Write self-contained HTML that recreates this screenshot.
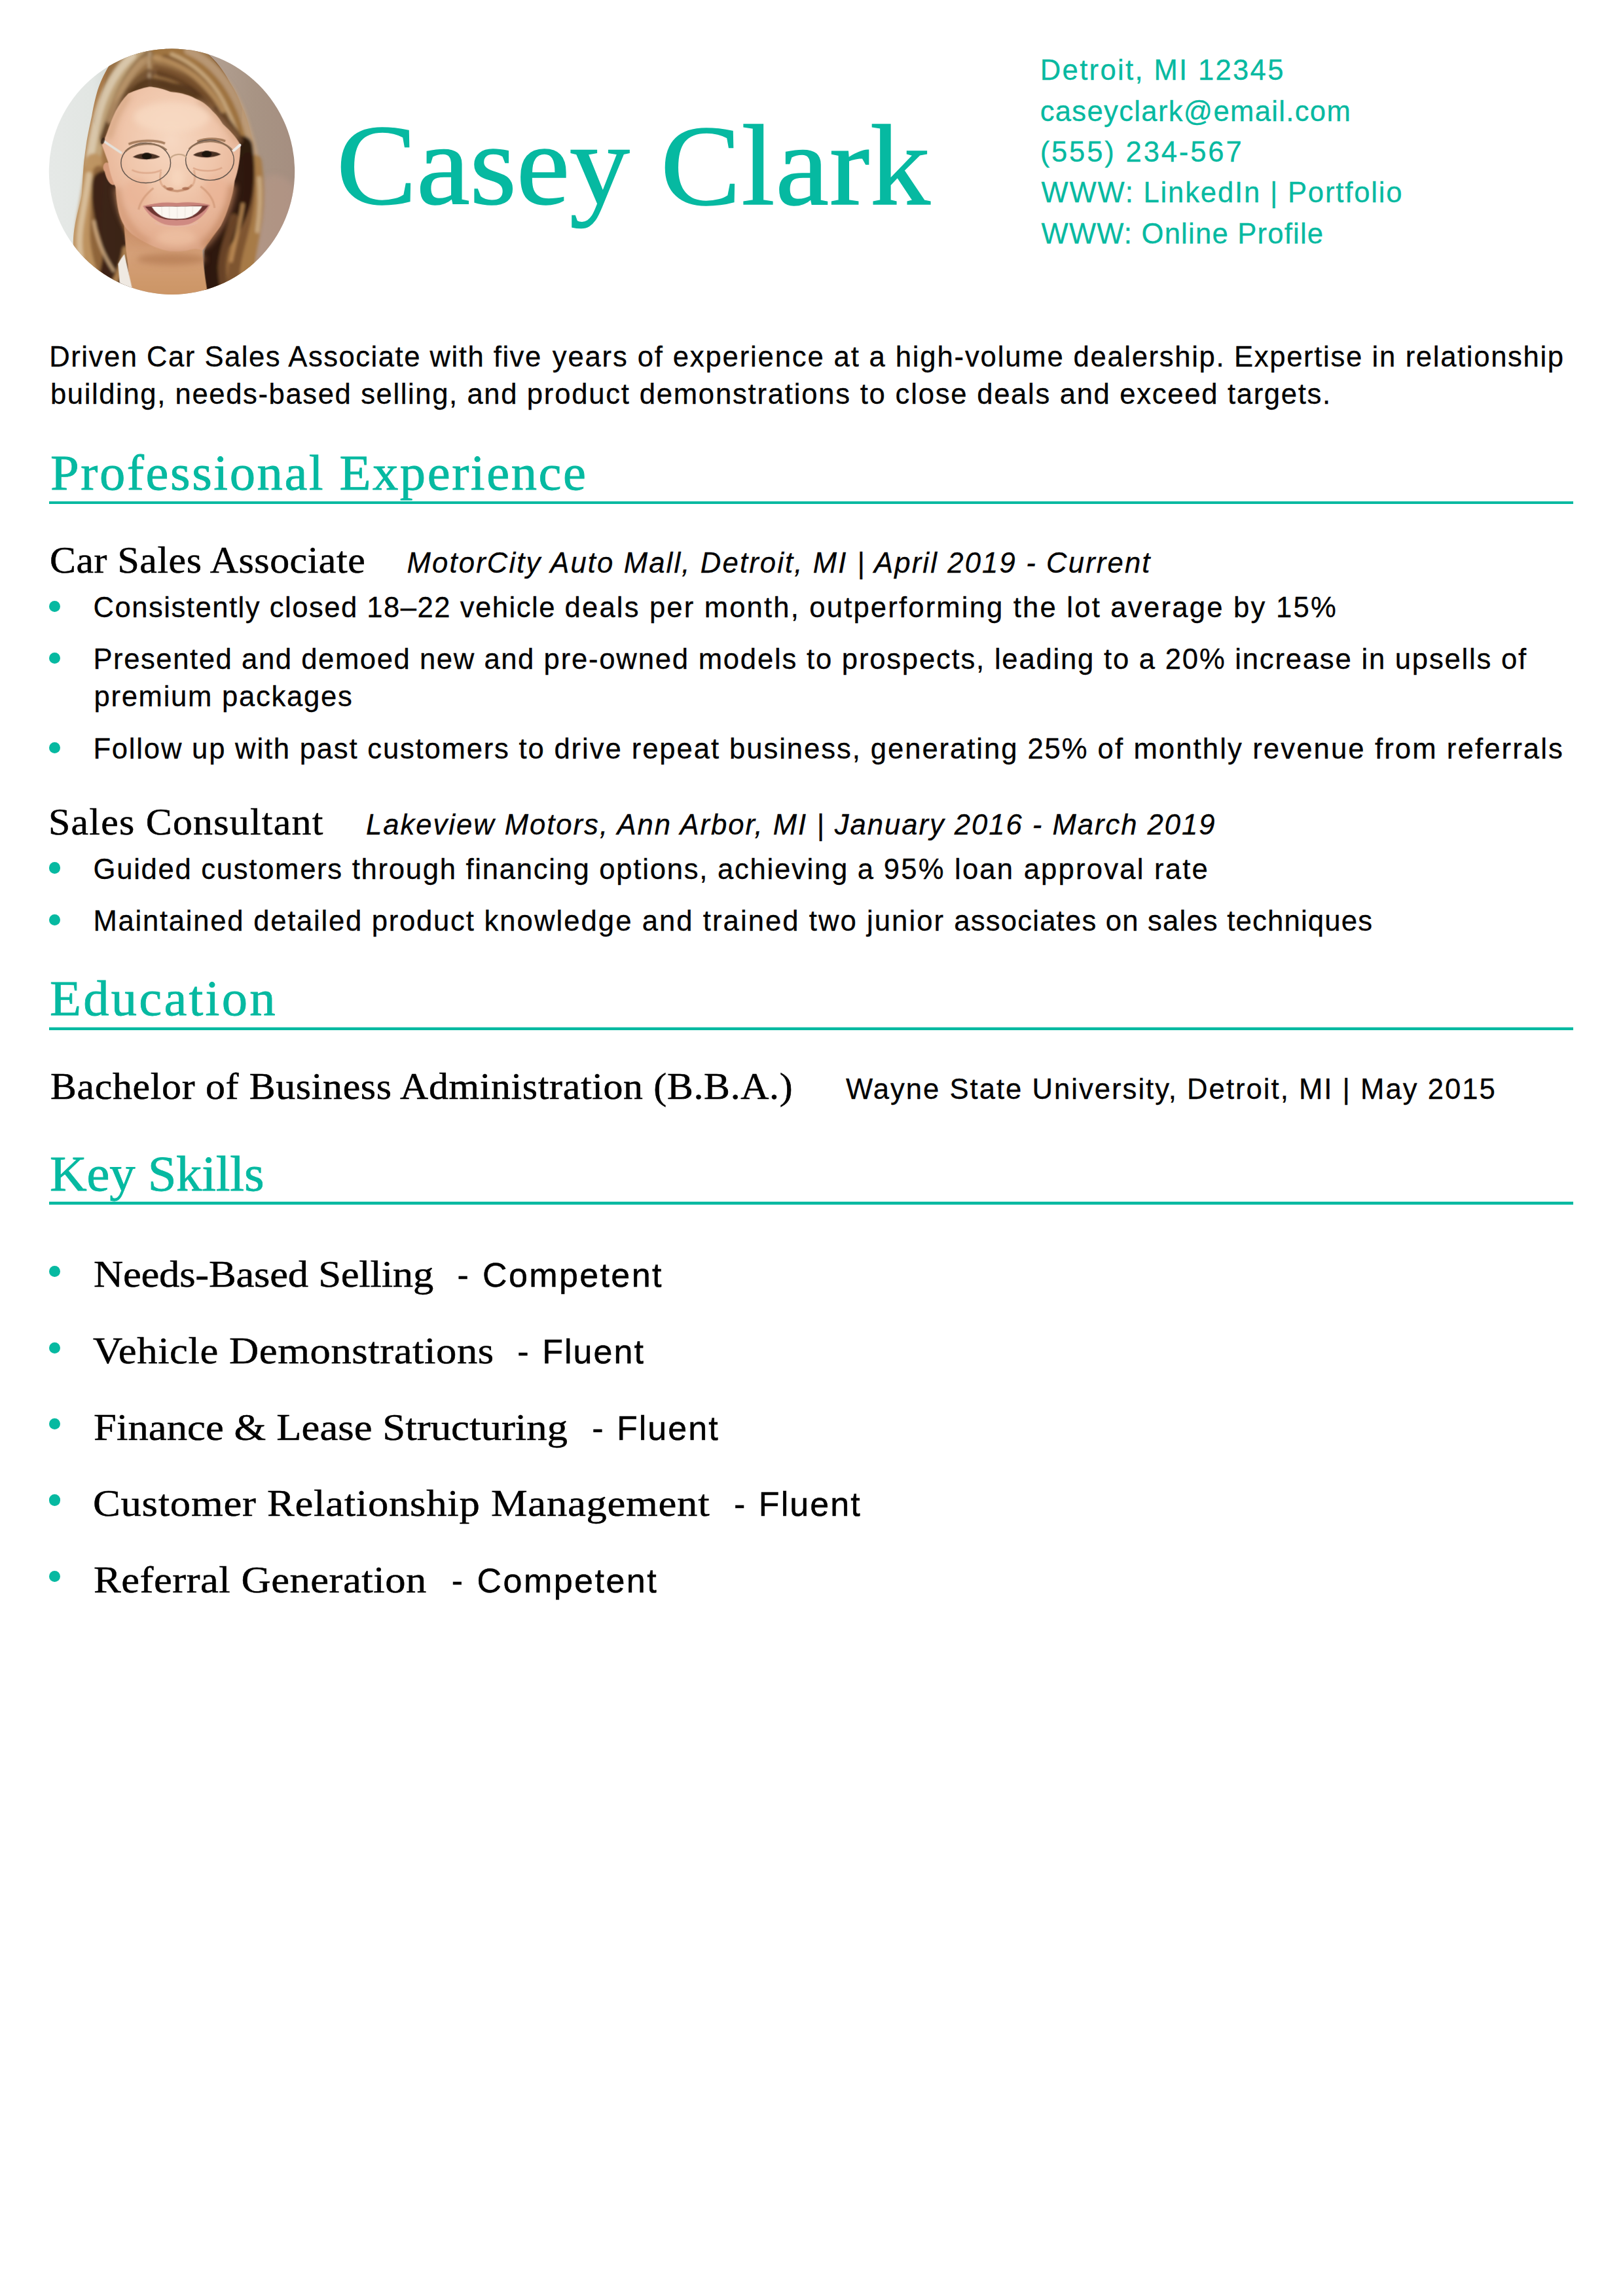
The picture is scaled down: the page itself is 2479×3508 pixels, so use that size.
<!DOCTYPE html>
<html lang="en">
<head>
<meta charset="utf-8">
<title>Casey Clark - Resume</title>
<style>
html,body{margin:0;padding:0;background:#fff;}
body{width:2479px;height:3508px;position:relative;overflow:hidden;font-family:"Liberation Sans",sans-serif;color:#000;}
.s,.r{position:absolute;white-space:nowrap;line-height:1;margin:0;padding:0;transform-origin:0 0;}
.s{font-family:"Liberation Sans",sans-serif;}
.r{font-family:"Liberation Serif",serif;}
.i{font-style:italic;}
.t{color:#06b9a1;}
.hr{position:absolute;left:75px;width:2327.5px;height:4px;background:#06b9a1;}
.b{position:absolute;left:74.8px;width:17.4px;height:17.4px;border-radius:50%;background:#06b9a1;}
#photo{position:absolute;left:60px;top:60px;width:410px;height:410px;}
</style>
</head>
<body>
<svg id="photo" viewBox="0 0 1623 1623">
<defs>
<clipPath id="cc"><circle cx="801.6" cy="800.4" r="743"/></clipPath>
<linearGradient id="bg" x1="0" x2="1" y1="0" y2="0">
<stop offset="0.03" stop-color="#e6e9e7"/><stop offset="0.2" stop-color="#e2e6e3"/><stop offset="0.3" stop-color="#cdd3cf"/><stop offset="0.6" stop-color="#b5a396"/><stop offset="0.8" stop-color="#a89484"/><stop offset="0.96" stop-color="#a58e80"/>
</linearGradient>
<linearGradient id="hl" x1="0" x2="1" y1="0" y2="0">
<stop offset="0" stop-color="#c29a6a"/><stop offset="0.35" stop-color="#a87a4a"/><stop offset="0.7" stop-color="#6e4626"/><stop offset="1" stop-color="#3c2414"/>
</linearGradient>
<linearGradient id="hr" x1="0" x2="1" y1="0" y2="0">
<stop offset="0" stop-color="#2e1a10"/><stop offset="0.35" stop-color="#5e3c20"/><stop offset="0.7" stop-color="#9a6c3e"/><stop offset="1" stop-color="#b88e60"/>
</linearGradient>
<linearGradient id="ht" x1="0" x2="0" y1="0" y2="1">
<stop offset="0" stop-color="#a07a4e"/><stop offset="0.55" stop-color="#8e663c"/><stop offset="1" stop-color="#5c3c20"/>
</linearGradient>
<radialGradient id="face" cx="0.5" cy="0.32" r="0.75">
<stop offset="0" stop-color="#f7d8c2"/><stop offset="0.45" stop-color="#f0c6ab"/><stop offset="0.8" stop-color="#e5b092"/><stop offset="1" stop-color="#d59e7e"/>
</radialGradient>
<linearGradient id="neck" x1="0" x2="0" y1="0" y2="1">
<stop offset="0" stop-color="#c98f68"/><stop offset="0.35" stop-color="#d5a078"/><stop offset="1" stop-color="#c9925f"/>
</linearGradient>
<filter id="b3" x="-10%" y="-10%" width="120%" height="120%"><feGaussianBlur stdDeviation="3"/></filter>
<filter id="b8" x="-20%" y="-20%" width="140%" height="140%"><feGaussianBlur stdDeviation="8"/></filter>
<filter id="b20" x="-30%" y="-30%" width="160%" height="160%"><feGaussianBlur stdDeviation="20"/></filter>
</defs>
<g clip-path="url(#cc)">
<rect width="1623" height="1623" fill="url(#bg)"/>
<ellipse cx="1420" cy="1150" rx="200" ry="330" fill="#b89888" opacity=".55" filter="url(#b20)"/>
<g filter="url(#b3)">
<!-- hair left mass -->
<path d="M700 40 C560 70 470 120 425 154 C385 220 365 270 353 307 C335 370 325 420 318 461 C305 520 295 570 287 615 C278 680 270 730 266 792 C262 850 260 900 256 945 C245 1000 230 1050 220 1099 C210 1150 205 1190 205 1240 L300 1500 L560 1560 L560 1100 L470 900 L400 640 L470 430 L560 320 L700 280Z" fill="url(#hl)"/>
<!-- hair right mass -->
<path d="M690 40 C820 30 930 50 1012 82 C1070 130 1115 190 1150 256 C1185 310 1210 360 1227 410 C1250 460 1265 510 1278 563 C1295 620 1305 670 1314 717 C1325 760 1330 800 1335 831 C1342 870 1345 910 1345 945 C1342 1000 1338 1050 1330 1099 C1322 1150 1312 1200 1304 1253 L1294 1400 L1000 1560 L1000 1280 L1150 1000 L1217 640 L1050 435 L792 318 L690 280Z" fill="url(#hr)"/>
<!-- top hair -->
<path d="M425 154 C520 80 620 45 700 40 C830 30 930 50 1012 82 C1100 170 1180 300 1227 420 L1217 640 C1190 590 1150 550 1109 512 C1085 470 1065 450 1048 435 C1010 390 980 375 945 359 C890 330 840 322 792 318 C750 300 700 290 666 287 C620 295 580 310 538 328 C505 360 480 400 461 435 C440 480 425 520 410 563 L379 640 L330 500 Z" fill="url(#ht)"/>
</g>
<!-- hair tonal strands -->
<g fill="none" filter="url(#b8)" stroke-linecap="round">
<!-- top-left sweep -->
<path d="M640 60 C540 130 450 260 400 420 C370 520 350 620 335 740" stroke="#c4a880" stroke-width="70" opacity=".9"/>
<path d="M560 100 C470 180 400 300 360 440 C335 540 315 640 300 760" stroke="#dccbb0" stroke-width="50" opacity=".9"/>
<path d="M690 70 C610 130 540 220 490 330 C450 420 420 520 395 620" stroke="#8a6844" stroke-width="60" opacity=".85"/>
<path d="M620 130 C560 190 510 270 470 370" stroke="#b89468" stroke-width="30" opacity=".8"/>
<path d="M690 200 C640 240 590 290 545 330 C505 370 478 410 455 460" stroke="#6b4a2e" stroke-width="34" opacity=".8"/>
<path d="M668 80 C662 150 662 220 670 285" stroke="#c9b090" stroke-width="14" opacity=".8"/>
<!-- top-right sweep -->
<path d="M720 55 C860 90 990 180 1090 330 C1160 440 1210 560 1240 680" stroke="#a0743f" stroke-width="90" opacity=".92"/>
<path d="M760 120 C880 160 990 250 1070 380 C1120 460 1170 550 1200 640" stroke="#7a5430" stroke-width="54" opacity=".9"/>
<path d="M730 200 C830 220 930 270 1010 360 C1060 420 1100 480 1130 530" stroke="#5c3a1e" stroke-width="48" opacity=".9"/>
<path d="M740 270 C820 285 900 320 960 365" stroke="#7e5a38" stroke-width="34" opacity=".85"/>
<path d="M800 90 C930 140 1040 240 1110 370 C1160 470 1200 560 1225 650" stroke="#d2b48c" stroke-width="22" opacity=".8"/>
<path d="M900 70 C1040 130 1150 260 1220 430 C1260 540 1290 640 1305 740" stroke="#bfa080" stroke-width="50" opacity=".8"/>
<path d="M1030 420 C1080 480 1120 540 1150 600" stroke="#dcc4a0" stroke-width="14" opacity=".85"/>
<!-- left lower -->
<path d="M330 740 C315 860 300 960 280 1060 C262 1160 262 1260 300 1400" stroke="#bd9260" stroke-width="100" opacity=".95"/>
<path d="M300 820 C285 930 265 1030 250 1130 C240 1200 240 1260 250 1320" stroke="#dcc4a2" stroke-width="36" opacity=".85"/>
<path d="M360 800 C350 940 340 1060 340 1180 C345 1280 370 1380 420 1480" stroke="#8c6238" stroke-width="70" opacity=".9"/>
<path d="M395 870 C385 960 400 1040 420 1120 C445 1200 470 1270 455 1350 C445 1410 430 1460 420 1520" stroke="#3a2214" stroke-width="150" opacity=".97"/>
<path d="M330 1100 C345 1200 390 1310 450 1400" stroke="#dbb88e" stroke-width="16" opacity=".9"/>
<path d="M520 1270 C515 1330 490 1400 450 1480" stroke="#b98a58" stroke-width="36" opacity=".9"/>
<!-- right lower -->
<path d="M1305 740 C1322 860 1322 980 1308 1090 C1292 1200 1270 1290 1255 1400" stroke="#a67a46" stroke-width="80" opacity=".95"/>
<path d="M1330 840 C1340 950 1332 1060 1318 1160" stroke="#cdb08a" stroke-width="26" opacity=".85"/>
<path d="M1262 720 C1275 850 1270 980 1245 1100 C1220 1210 1180 1320 1170 1460" stroke="#7c5230" stroke-width="70" opacity=".95"/>
<path d="M1225 650 C1240 760 1240 870 1215 980 C1190 1070 1140 1160 1080 1240 C1050 1300 1050 1400 1065 1520" stroke="#2a180e" stroke-width="130" opacity=".97"/>
<path d="M1180 1080 C1150 1180 1110 1280 1105 1380 C1105 1440 1115 1490 1125 1540" stroke="#6e4828" stroke-width="50" opacity=".9"/>
<path d="M1230 1000 C1215 1120 1180 1230 1160 1340" stroke="#c39258" stroke-width="22" opacity=".85"/>
<path d="M395 600 C415 540 440 470 475 410 C510 350 560 310 666 262 C720 268 770 280 800 292 C860 298 920 315 965 340 C1010 360 1050 400 1075 440 C1120 490 1170 550 1205 610" stroke="#54361c" stroke-width="56" opacity=".9"/>
<path d="M700 110 C780 130 880 170 960 240 C1020 295 1070 360 1110 430" stroke="#bf9664" stroke-width="34" opacity=".8"/>
<path d="M705 170 C780 185 860 215 930 265 C980 305 1020 350 1050 395" stroke="#7a5430" stroke-width="36" opacity=".8"/>
<path d="M650 120 C590 170 540 230 500 300 C470 355 445 420 425 490" stroke="#b8946a" stroke-width="40" opacity=".8"/>
<path d="M660 190 C610 225 565 270 530 320" stroke="#6e4c2e" stroke-width="30" opacity=".75"/>
</g>
<g filter="url(#b3)">
<!-- neck -->
<path d="M512 1125 L1099 1125 C1040 1210 1000 1260 986 1278 C990 1340 997 1406 1012 1499 L1030 1623 L560 1623 C556 1580 554 1530 553 1493 C540 1420 530 1330 522 1253Z" fill="url(#neck)"/>
<!-- shirt -->
<path d="M476 1360 C490 1330 505 1310 515 1300 C530 1370 545 1430 560 1500 L575 1560 L490 1520Z" fill="#efe9e2"/>
<!-- ear left -->
<path d="M395 800 C380 780 385 750 405 745 C430 745 450 790 455 880 C430 890 405 850 395 800Z" fill="#d79c7c"/>
<!-- face -->
<path d="M379 640 C395 600 402 585 410 563 C425 520 440 480 461 435 C480 400 505 360 538 328 C580 310 620 295 666 287 C700 290 750 300 792 318 C840 322 890 330 945 359 C980 375 1010 390 1048 435 C1065 450 1085 470 1109 512 C1150 550 1190 590 1217 640 C1215 720 1205 790 1181 858 C1175 910 1165 950 1150 997 C1135 1045 1120 1085 1099 1125 C1075 1160 1050 1190 1022 1212 C1005 1240 995 1262 986 1278 C950 1262 925 1268 894 1278 C860 1284 825 1285 792 1283 C745 1275 700 1258 666 1242 C630 1225 595 1205 563 1181 C540 1160 525 1145 512 1125 C498 1100 488 1075 481 1048 C470 1000 464 950 461 894 C440 850 425 800 415 740Z" fill="url(#face)"/>
</g>
<!-- face shading -->
<g filter="url(#b20)">
<ellipse cx="800" cy="470" rx="230" ry="90" fill="#f8dcc4" opacity=".7"/>
<ellipse cx="590" cy="930" rx="80" ry="90" fill="#eab496" opacity=".7"/>
<ellipse cx="1070" cy="920" rx="80" ry="90" fill="#eab496" opacity=".7"/>
<path d="M470 900 C480 1050 540 1160 660 1235" stroke="#c98e68" stroke-width="40" fill="none" opacity=".6"/>
<path d="M1170 880 C1150 1040 1090 1150 990 1250" stroke="#c08560" stroke-width="46" fill="none" opacity=".7"/>
<ellipse cx="800" cy="1330" rx="210" ry="35" fill="#b37a52" opacity=".7"/>
<ellipse cx="835" cy="840" rx="45" ry="60" fill="#f8d8c0" opacity=".7"/>
<ellipse cx="830" cy="1200" rx="120" ry="50" fill="#f0c4a6" opacity=".6"/>
<path d="M420 600 C440 520 470 440 540 340" stroke="#c99a74" stroke-width="30" fill="none" opacity=".7"/>
<path d="M1200 620 C1150 540 1080 450 960 370" stroke="#c99a74" stroke-width="30" fill="none" opacity=".6"/>
</g>
<!-- features -->
<g filter="url(#b3)">
<path d="M540 634 C600 610 700 606 760 630" stroke="#9a7252" stroke-width="14" fill="none" opacity=".85"/>
<path d="M955 618 C1010 596 1080 598 1125 616" stroke="#9a7252" stroke-width="14" fill="none" opacity=".85"/>
<path d="M565 712 C600 684 690 680 730 712 C690 730 610 732 565 712Z" fill="#4a3024"/>
<path d="M930 700 C965 672 1055 668 1098 696 C1055 718 975 722 930 700Z" fill="#4a3024"/>
<ellipse cx="650" cy="706" rx="30" ry="20" fill="#1e1410"/>
<ellipse cx="1012" cy="694" rx="30" ry="20" fill="#1e1410"/>
<path d="M560 790 C610 815 690 815 740 790" stroke="#d9a384" stroke-width="10" fill="none" opacity=".8"/>
<path d="M930 778 C980 802 1060 802 1105 776" stroke="#d9a384" stroke-width="10" fill="none" opacity=".8"/>
<!-- nose -->
<path d="M750 885 C770 910 800 915 835 918 C870 915 905 908 925 880" stroke="#c08868" stroke-width="14" fill="none" opacity=".8"/>
<ellipse cx="790" cy="905" rx="22" ry="9" fill="#a8684c" opacity=".8"/>
<ellipse cx="885" cy="903" rx="22" ry="9" fill="#a8684c" opacity=".8"/>
<path d="M735 800 C725 840 730 870 748 890" stroke="#d8a484" stroke-width="12" fill="none" opacity=".7"/>
<path d="M935 790 C945 830 940 865 925 885" stroke="#d8a484" stroke-width="12" fill="none" opacity=".7"/>
<!-- smile folds -->
<path d="M690 900 C640 940 610 980 600 1030" stroke="#d39c7c" stroke-width="12" fill="none" opacity=".8"/>
<path d="M975 890 C1030 930 1055 975 1060 1020" stroke="#d39c7c" stroke-width="12" fill="none" opacity=".8"/>
<!-- mouth -->
<path d="M627 1009 C700 992 770 985 831 992 C900 984 970 990 1032 1002 C1005 1060 960 1100 900 1120 C860 1130 800 1130 760 1120 C700 1100 655 1060 627 1009Z" fill="#cf8a82"/>
<path d="M640 1012 C720 1010 780 1008 831 1010 C890 1008 960 1006 1022 1006 C990 1050 950 1075 900 1088 C860 1094 800 1094 760 1088 C710 1075 670 1050 640 1012Z" fill="#6e3630"/>
<path d="M680 1013 C740 1011 790 1010 831 1012 C880 1010 930 1009 985 1010 C965 1045 935 1068 895 1080 C860 1088 800 1088 765 1080 C725 1068 700 1045 680 1013Z" fill="#fbf7f1"/>
<path d="M627 1009 C700 988 770 982 831 990 C900 981 970 987 1032 1002 C970 1004 900 1006 831 1009 C770 1006 700 1008 627 1009Z" fill="#c8837a"/>
<path d="M700 1108 C760 1140 900 1140 960 1106" stroke="#e7b8a8" stroke-width="10" fill="none" opacity=".6"/>
</g>
<g stroke="#d9d0c4" stroke-width="3" opacity=".7" fill="none">
<path d="M740 1012 L742 1070M786 1012 L787 1084M834 1012 L834 1088M882 1012 L881 1085M928 1011 L925 1072"/>
</g>
<!-- glasses -->
<g fill="none">
<path d="M494 686 L392 618" stroke="#e4e2dc" stroke-width="14" stroke-linecap="round"/>
<ellipse cx="384" cy="614" rx="10" ry="20" fill="#3a281c" transform="rotate(20 384 614)" opacity=".85"/>
<path d="M1176 672 L1213 640" stroke="#ecebe8" stroke-width="16" stroke-linecap="round"/>
<ellipse cx="644" cy="748" rx="150" ry="121" stroke="#5c5048" stroke-width="5.5"/>
<ellipse cx="1031" cy="731" rx="146" ry="122" stroke="#5c5048" stroke-width="5.5"/>
<path d="M520 680 C560 630 700 610 770 670" stroke="#8a6a50" stroke-width="11" opacity=".85"/>
<path d="M905 665 C960 600 1110 600 1165 670" stroke="#8a6a50" stroke-width="11" opacity=".85"/>
<path d="M792 722 C810 692 865 688 888 712" stroke="#c9a88a" stroke-width="9"/>
</g>
</g>
</svg>
<div class="r t" style="left:513.62px;top:163.80px;font-size:176.5px;letter-spacing:-0.205px;transform:scaleX(1.04);-webkit-text-stroke:1.5px #06b9a1">Casey</div>
<div class="r t" style="left:1008.57px;top:165.40px;font-size:176.5px;letter-spacing:0.971px;transform:scaleX(1.04);-webkit-text-stroke:1.5px #06b9a1">Clark</div>
<div class="s t" style="left:1588.80px;top:86.28px;font-size:43.6px;letter-spacing:2.329px;-webkit-text-stroke:0.3px #06b9a1">Detroit, MI 12345</div>
<div class="s t" style="left:1588.65px;top:149.08px;font-size:43.6px;letter-spacing:1.329px;-webkit-text-stroke:0.3px #06b9a1">caseyclark@email.com</div>
<div class="s t" style="left:1588.65px;top:211.28px;font-size:43.6px;letter-spacing:2.844px;-webkit-text-stroke:0.3px #06b9a1">(555) 234-567</div>
<div class="s t" style="left:1590.55px;top:272.98px;font-size:43.6px;letter-spacing:1.824px;-webkit-text-stroke:0.3px #06b9a1">WWW: LinkedIn | Portfolio</div>
<div class="s t" style="left:1590.55px;top:336.28px;font-size:43.6px;letter-spacing:1.221px;-webkit-text-stroke:0.3px #06b9a1">WWW: Online Profile</div>
<div class="s" style="left:75.35px;top:524.28px;font-size:43.6px;letter-spacing:1.516px;-webkit-text-stroke:0.3px #000000">Driven Car Sales Associate with five</div>
<div class="s" style="left:843.75px;top:524.28px;font-size:43.6px;letter-spacing:1.861px;-webkit-text-stroke:0.3px #000000">years of experience at a high-volume</div>
<div class="s" style="left:1639.55px;top:524.28px;font-size:43.6px;letter-spacing:1.675px;-webkit-text-stroke:0.3px #000000">dealership. Expertise in relationship</div>
<div class="s" style="left:76.95px;top:581.28px;font-size:43.6px;letter-spacing:1.615px;-webkit-text-stroke:0.3px #000000">building, needs-based selling, and</div>
<div class="s" style="left:804.80px;top:581.28px;font-size:43.6px;letter-spacing:1.793px;-webkit-text-stroke:0.3px #000000">product demonstrations to close</div>
<div class="s" style="left:1492.20px;top:581.28px;font-size:43.6px;letter-spacing:1.697px;-webkit-text-stroke:0.3px #000000">deals and exceed targets.</div>
<div class="r t" style="left:77.17px;top:685.39px;font-size:75.6px;letter-spacing:2.448px;transform:scaleX(1.04);-webkit-text-stroke:0.8px #06b9a1">Professional Experience</div>
<div class="r t" style="left:76.42px;top:1488.29px;font-size:75.6px;letter-spacing:3.098px;transform:scaleX(1.04);-webkit-text-stroke:0.8px #06b9a1">Education</div>
<div class="r t" style="left:76.42px;top:1756.39px;font-size:75.6px;letter-spacing:-0.240px;transform:scaleX(1.04);-webkit-text-stroke:0.8px #06b9a1">Key Skills</div>
<div class="r" style="left:75.52px;top:827.45px;font-size:57.5px;letter-spacing:0.535px;transform:scaleX(1.04);-webkit-text-stroke:0.55px #000000">Car Sales Associate</div>
<div class="s i" style="left:621.60px;top:839.38px;font-size:43.6px;letter-spacing:2.157px;-webkit-text-stroke:0.3px #000000">MotorCity Auto Mall, Detroit, MI | April 2019 - Current</div>
<div class="s" style="left:142.55px;top:906.88px;font-size:43.6px;letter-spacing:1.505px;-webkit-text-stroke:0.3px #000000">Consistently closed 18–22 vehicle</div>
<div class="s" style="left:862.55px;top:906.88px;font-size:43.6px;letter-spacing:2.172px;-webkit-text-stroke:0.3px #000000">deals per month, outperforming the</div>
<div class="s" style="left:1629.20px;top:906.88px;font-size:43.6px;letter-spacing:2.256px;-webkit-text-stroke:0.3px #000000">lot average by 15%</div>
<div class="s" style="left:142.40px;top:986.08px;font-size:43.6px;letter-spacing:1.584px;-webkit-text-stroke:0.3px #000000">Presented and demoed new and</div>
<div class="s" style="left:830.60px;top:986.08px;font-size:43.6px;letter-spacing:1.802px;-webkit-text-stroke:0.3px #000000">pre-owned models to prospects, leading</div>
<div class="s" style="left:1686.00px;top:986.08px;font-size:43.6px;letter-spacing:1.796px;-webkit-text-stroke:0.3px #000000">to a 20% increase in upsells of</div>
<div class="s" style="left:143.40px;top:1042.98px;font-size:43.6px;letter-spacing:1.740px;-webkit-text-stroke:0.3px #000000">premium packages</div>
<div class="s" style="left:142.40px;top:1123.28px;font-size:43.6px;letter-spacing:1.804px;-webkit-text-stroke:0.3px #000000">Follow up with past customers to</div>
<div class="s" style="left:846.40px;top:1123.28px;font-size:43.6px;letter-spacing:1.949px;-webkit-text-stroke:0.3px #000000">drive repeat business, generating 25%</div>
<div class="s" style="left:1676.55px;top:1123.28px;font-size:43.6px;letter-spacing:2.131px;-webkit-text-stroke:0.3px #000000">of monthly revenue from referrals</div>
<div class="r" style="left:74.48px;top:1227.05px;font-size:57.5px;letter-spacing:1.219px;transform:scaleX(1.04);-webkit-text-stroke:0.55px #000000">Sales Consultant</div>
<div class="s i" style="left:559.00px;top:1239.18px;font-size:43.6px;letter-spacing:1.987px;-webkit-text-stroke:0.3px #000000">Lakeview Motors, Ann Arbor, MI | January 2016 - March 2019</div>
<div class="s" style="left:142.55px;top:1306.88px;font-size:43.6px;letter-spacing:1.724px;-webkit-text-stroke:0.3px #000000">Guided customers through financing</div>
<div class="s" style="left:915.35px;top:1306.88px;font-size:43.6px;letter-spacing:1.757px;-webkit-text-stroke:0.3px #000000">options, achieving a</div>
<div class="s" style="left:1349.70px;top:1306.88px;font-size:43.6px;letter-spacing:2.228px;-webkit-text-stroke:0.3px #000000">95% loan approval rate</div>
<div class="s" style="left:142.40px;top:1386.08px;font-size:43.6px;letter-spacing:1.760px;-webkit-text-stroke:0.3px #000000">Maintained detailed product</div>
<div class="s" style="left:739.40px;top:1386.08px;font-size:43.6px;letter-spacing:2.072px;-webkit-text-stroke:0.3px #000000">knowledge and trained two junior</div>
<div class="s" style="left:1457.25px;top:1386.08px;font-size:43.6px;letter-spacing:1.220px;-webkit-text-stroke:0.3px #000000">associates on sales techniques</div>
<div class="r" style="left:76.56px;top:1631.25px;font-size:57.5px;letter-spacing:0.651px;transform:scaleX(1.04);-webkit-text-stroke:0.55px #000000">Bachelor of Business Administration (B.B.A.)</div>
<div class="s" style="left:1292.10px;top:1643.28px;font-size:43.6px;letter-spacing:2.025px;-webkit-text-stroke:0.3px #000000">Wayne State University, Detroit, MI | May 2015</div>
<div class="r" style="left:143.47px;top:1918.43px;font-size:58px;letter-spacing:-0.227px;transform:scaleX(1.08);-webkit-text-stroke:0.5px #000000">Needs-Based Selling</div>
<div class="s" style="left:698.40px;top:1921.97px;font-size:52px;letter-spacing:2.392px;word-spacing:2px;-webkit-text-stroke:0.5px #000000">- Competent</div>
<div class="r" style="left:141.75px;top:2035.43px;font-size:58px;letter-spacing:0.529px;transform:scaleX(1.08);-webkit-text-stroke:0.5px #000000">Vehicle Demonstrations</div>
<div class="s" style="left:790.35px;top:2038.97px;font-size:52px;letter-spacing:2.030px;word-spacing:2px;-webkit-text-stroke:0.5px #000000">- Fluent</div>
<div class="r" style="left:143.47px;top:2152.43px;font-size:58px;letter-spacing:0.077px;transform:scaleX(1.08);-webkit-text-stroke:0.5px #000000">Finance &amp; Lease Structuring</div>
<div class="s" style="left:904.15px;top:2155.97px;font-size:52px;letter-spacing:2.030px;word-spacing:2px;-webkit-text-stroke:0.5px #000000">- Fluent</div>
<div class="r" style="left:142.39px;top:2268.23px;font-size:58px;letter-spacing:0.688px;transform:scaleX(1.08);-webkit-text-stroke:0.5px #000000">Customer Relationship Management</div>
<div class="s" style="left:1121.00px;top:2272.17px;font-size:52px;letter-spacing:2.044px;word-spacing:2px;-webkit-text-stroke:0.5px #000000">- Fluent</div>
<div class="r" style="left:143.47px;top:2385.33px;font-size:58px;letter-spacing:0.472px;transform:scaleX(1.08);-webkit-text-stroke:0.5px #000000">Referral Generation</div>
<div class="s" style="left:689.80px;top:2388.77px;font-size:52px;letter-spacing:2.472px;word-spacing:2px;-webkit-text-stroke:0.5px #000000">- Competent</div><div class="hr" style="top:766px"></div>
<div class="hr" style="top:1569px;height:1px;background:#9be3d9"></div><div class="hr" style="top:1570px"></div>
<div class="hr" style="top:1836px"></div><div class="hr" style="top:1840px;height:1px;background:#6ad5c7"></div>
<div class="b" style="top:917.6px"></div>
<div class="b" style="top:996.5px"></div>
<div class="b" style="top:1133.8px"></div>
<div class="b" style="top:1317.2px"></div>
<div class="b" style="top:1396.5px"></div>
<div class="b" style="top:1933.7px"></div>
<div class="b" style="top:2050.9px"></div>
<div class="b" style="top:2166.8px"></div>
<div class="b" style="top:2283.3px"></div>
<div class="b" style="top:2399.7px"></div>
</body></html>
